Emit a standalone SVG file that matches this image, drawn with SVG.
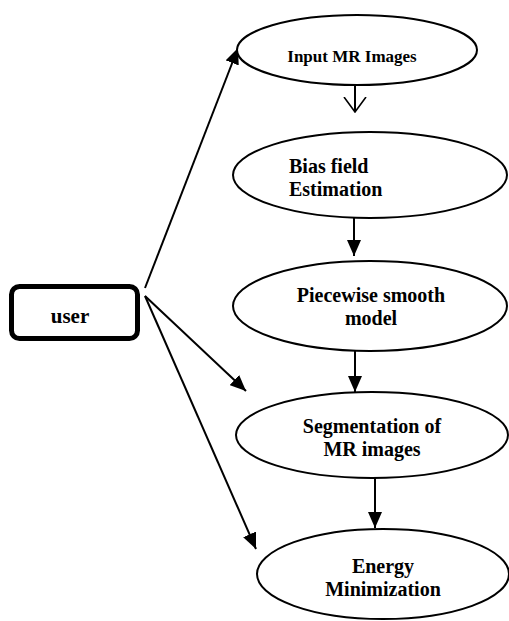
<svg xmlns="http://www.w3.org/2000/svg" width="509" height="621" viewBox="0 0 509 621">
<defs>
<style>
.node{fill:#fff;stroke:#000;stroke-width:2}
.t{font-family:"Liberation Serif","Times New Roman",serif;font-weight:bold;font-size:20px;fill:#000}
.c{stroke:#000;stroke-width:2;fill:none}
</style>
<marker id="ah" viewBox="0 0 16 14" refX="16" refY="7" markerWidth="16" markerHeight="14" markerUnits="userSpaceOnUse" orient="auto">
<path d="M0,0 L16,7 L0,14 Z" fill="#000"/>
</marker>
<marker id="av" viewBox="0 0 16 24" refX="15" refY="12" markerWidth="16" markerHeight="24" markerUnits="userSpaceOnUse" orient="auto">
<path d="M0,1 L15,12 L0,23" fill="none" stroke="#000" stroke-width="1.6"/>
</marker>
</defs>
<rect width="509" height="621" fill="#fff"/>
<g id="connectors">
<line class="c" x1="355" y1="85" x2="355" y2="112" marker-end="url(#av)"/>
<line class="c" x1="354" y1="218" x2="354" y2="256" marker-end="url(#ah)"/>
<line class="c" x1="355" y1="351" x2="355" y2="392" marker-end="url(#ah)"/>
<line class="c" x1="375" y1="478" x2="375" y2="528" marker-end="url(#ah)"/>
<line class="c" x1="145" y1="288" x2="238" y2="48" marker-end="url(#ah)"/>
<line class="c" x1="145" y1="296" x2="246" y2="391" marker-end="url(#ah)"/>
<line class="c" x1="145" y1="296" x2="256" y2="549" marker-end="url(#ah)"/>
</g>
<g id="user">
<rect x="11.5" y="286.5" width="126" height="52" rx="8" fill="#fff" stroke="#000" stroke-width="5"/>
<text class="t" x="70" y="323" text-anchor="middle" style="font-size:21px">user</text>
</g>
<g id="input">
<ellipse class="node" cx="357" cy="50" rx="120" ry="35"/>
<text class="t" x="352" y="62" text-anchor="middle" style="font-size:17px">Input MR Images</text>
</g>
<g id="bias">
<ellipse class="node" cx="370" cy="175" rx="137" ry="43"/>
<text class="t" x="289" y="173">Bias field</text>
<text class="t" x="289" y="196">Estimation</text>
</g>
<g id="piecewise">
<ellipse class="node" cx="370" cy="306" rx="137" ry="45"/>
<text class="t" x="371" y="302" text-anchor="middle">Piecewise smooth</text>
<text class="t" x="371" y="325" text-anchor="middle">model</text>
</g>
<g id="segmentation">
<ellipse class="node" cx="372" cy="435" rx="136" ry="43"/>
<text class="t" x="372" y="433" text-anchor="middle">Segmentation of</text>
<text class="t" x="372" y="456" text-anchor="middle">MR images</text>
</g>
<g id="energy">
<ellipse class="node" cx="383" cy="574" rx="126" ry="45"/>
<text class="t" x="383" y="573" text-anchor="middle">Energy</text>
<text class="t" x="383" y="596" text-anchor="middle">Minimization</text>
</g>
</svg>
